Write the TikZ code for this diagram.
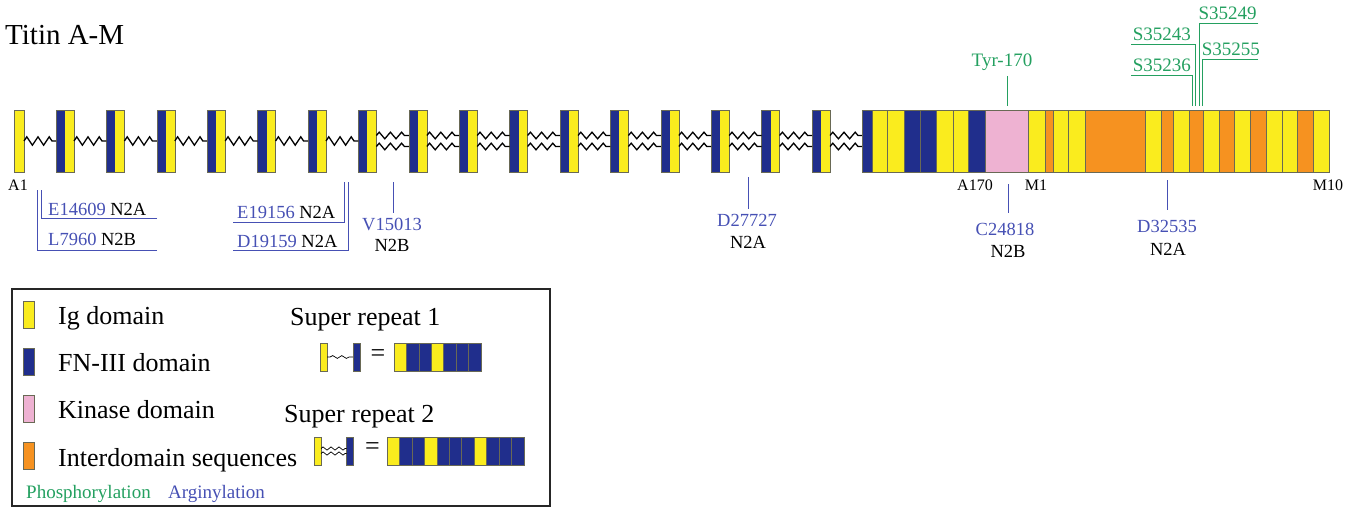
\documentclass[tikz,border=0pt]{standalone}
\usepackage{fontspec}
\setmainfont{Liberation Serif}
\usetikzlibrary{decorations.pathmorphing}

\definecolor{igY}{RGB}{250,236,30}
\definecolor{fnB}{RGB}{32,46,140}
\definecolor{kinP}{RGB}{238,178,210}
\definecolor{intO}{RGB}{246,146,32}
\definecolor{phos}{RGB}{36,160,96}
\definecolor{argn}{RGB}{70,80,180}
\definecolor{edgeC}{RGB}{105,105,85}

\tikzset{
  cellbox/.style={draw=edgeC, line width=0.5pt},
  pairbox/.style={draw=edgeC, line width=0.5pt, fill=igY, minimum width=18pt,
    minimum height=62pt, inner sep=0pt, outer sep=0pt,
    path picture={\fill[fnB] (path picture bounding box.south west)
      rectangle (path picture bounding box.north);}},
  igbox/.style={draw=edgeC, line width=0.5pt, fill=igY, minimum width=10pt,
    minimum height=62pt, inner sep=0pt, outer sep=0pt},
  zzone/.style={line width=1.3pt, line join=miter, decorate,
    decoration={zigzag, segment length=11.2pt, amplitude=4.2pt}},
  zztwo/.style={line width=1.3pt, line join=miter, decorate,
    decoration={zigzag, segment length=11.2pt, amplitude=3.3pt}},
  tick/.style={anchor=base, inner sep=0pt, font=\fontsize{16}{18}\selectfont},
  plab/.style={anchor=base west, inner sep=0pt, text=phos, font=\fontsize{19}{20}\selectfont},
  alab/.style={inner sep=0pt, font=\fontsize{18.5}{20}\selectfont},
  pline/.style={draw=phos, line width=0.8pt},
  aline/.style={draw=argn, line width=0.8pt},
  legtext/.style={anchor=base west, inner sep=0pt, font=\fontsize{26}{28}\selectfont},
  swatch/.style={draw=edgeC, line width=0.5pt, minimum width=11pt,
    minimum height=27pt, inner sep=0pt},
  iconbox/.style={draw=edgeC, line width=0.5pt, minimum width=7pt,
    minimum height=28pt, inner sep=0pt, outer sep=0pt},
}

\begin{document}
\begin{tikzpicture}[x=1pt,y=-1pt]
\useasboundingbox (0,0) rectangle (1360,508);

% ---------- title ----------
\node[legtext, font=\fontsize{29}{30}\selectfont] (title) at (5,45) {Titin A-M};

% ---------- A-band Ig / FN-III pairs ----------
\node[igbox] (p0) at (19,141) {};
\foreach \k in {1,...,16}
  \node[pairbox] (p\k) at ({65+(\k-1)*50.4},141) {};

% single linkers
\foreach \a/\b in {0/1,1/2,2/3,3/4,4/5,5/6,6/7}
  \draw[zzone] (p\a.east) -- (p\b.west);

% double linkers
\foreach \a/\b in {7/8,8/9,9/10,10/11,11/12,12/13,13/14,14/15,15/16} {
  \draw[zztwo] ([yshift=5.5pt]p\a.east) -- ([yshift=5.5pt]p\b.west);
  \draw[zztwo] ([yshift=-5.5pt]p\a.east) -- ([yshift=-5.5pt]p\b.west);
}

% ---------- A/M-band region ----------
\coordinate (rstart) at (862.7,141);
\draw[zztwo] ([yshift=5.5pt]p16.east) -- ([yshift=5.5pt]rstart);
\draw[zztwo] ([yshift=-5.5pt]p16.east) -- ([yshift=-5.5pt]rstart);

\foreach \a/\b/\c in {862.7/872/fnB, 872/887/igY, 887/904/igY, 904/920/fnB,
  920/936/fnB, 936/953/igY, 953/968/igY, 968/985/fnB, 985/1028.5/kinP,
  1028.5/1045/igY, 1045/1053/intO, 1053/1068/igY, 1068/1085/igY,
  1085/1145/intO, 1145/1161/igY, 1161/1173/intO, 1173/1189/igY,
  1189/1203/intO, 1203/1219/igY, 1219/1234/intO, 1234/1250/igY,
  1250/1266/intO, 1266/1282/igY, 1282/1297/igY, 1297/1313/intO,
  1313/1329/igY}
  \draw[cellbox, fill=\c] (\a,110) rectangle (\b,172);

% ---------- domain markers ----------
\node[tick] (mA1) at (18,190) {A1};
\node[tick] (mA170) at (975,190) {A170};
\node[tick] (mM1) at (1036,190) {M1};
\node[tick] (mM10) at (1328,190) {M10};

% ---------- phosphorylation sites ----------
\node[plab, anchor=base] (tyr) at (1002,67) {Tyr-170};
\draw[pline] (1007,76) -- (1007,106);

\node[plab] (s249) at (1198.3,19.5) {S35249};
\node[plab] (s243) at (1132.7,40.5) {S35243};
\node[plab] (s255) at (1201.7,56) {S35255};
\node[plab] (s236) at (1132.7,71.5) {S35236};
\draw[pline] (1258.3,23) -- (1199.3,23) -- (1199.3,106);
\draw[pline] (1131,44) -- (1195.8,44) -- (1195.8,106);
\draw[pline] (1258.3,59.5) -- (1202.5,59.5) -- (1202.5,106);
\draw[pline] (1131,75) -- (1192.8,75) -- (1192.8,106);

% ---------- arginylation sites ----------
\draw[aline] (157,218) -- (41,218) -- (41,190);
\draw[aline] (157,250) -- (37.5,250) -- (37.5,190);
\node[alab, anchor=base west] (e14609) at (48,215) {\textcolor{argn}{E14609} N2A};
\node[alab, anchor=base west] (l7960) at (48,245) {\textcolor{argn}{L7960} N2B};

\draw[aline] (233,222) -- (344,222) -- (344,182);
\draw[aline] (233,250) -- (348,250) -- (348,182);
\node[alab, anchor=base west] (e19156) at (237,218) {\textcolor{argn}{E19156} N2A};
\node[alab, anchor=base west] (d19159) at (237,247) {\textcolor{argn}{D19159} N2A};

\draw[aline] (393,182) -- (393,213);
\node[alab, anchor=base, text=argn] (v15013) at (392,230) {V15013};
\node[alab, anchor=base] (v15013b) at (392,251) {N2B};

\draw[aline] (748,177) -- (748,209);
\node[alab, anchor=base, text=argn] (d27727) at (747,226.5) {D27727};
\node[alab, anchor=base] (d27727b) at (748,248) {N2A};

\draw[aline] (1008,184) -- (1008,213);
\node[alab, anchor=base, text=argn] (c24818) at (1005,235) {C24818};
\node[alab, anchor=base] (c24818b) at (1008,257) {N2B};

\draw[aline] (1167,180) -- (1167,210);
\node[alab, anchor=base, text=argn] (d32535) at (1167,232) {D32535};
\node[alab, anchor=base] (d32535b) at (1168,255) {N2A};

% ---------- legend ----------
\draw[line width=1.6pt, draw=black!85] (12,289) rectangle (550,506);

\node[swatch, fill=igY] (kIg) at (28.5,315) {};
\node[swatch, fill=fnB] (kFn) at (28.5,361.5) {};
\node[swatch, fill=kinP] (kKin) at (28.5,409) {};
\node[swatch, fill=intO] (kInt) at (28.5,456) {};
\node[legtext] (tIg) at (58,324) {Ig domain};
\node[legtext] (tFn) at (58,371) {FN-III domain};
\node[legtext] (tKin) at (58,418) {Kinase domain};
\node[legtext] (tInt) at (58,466) {Interdomain sequences};
\node[plab] (tPhos) at (26,498) {Phosphorylation};
\node[plab, text=argn] (tArg) at (168,498) {Arginylation};

% super repeat 1
\node[legtext] (sr1) at (290,325) {Super repeat 1};
\node[iconbox, fill=igY] (sy1) at (323.5,357) {};
\node[iconbox, fill=fnB] (sb1) at (356.5,357) {};
\draw[line width=0.7pt, decorate, decoration={snake, amplitude=1.4pt,
  segment length=9pt, pre length=3pt, post length=3pt}] (sy1.east) -- (sb1.west);
\node[inner sep=0pt, font=\fontsize{26}{28}\selectfont] (eq1) at (378,356) {=};
\foreach \c [count=\i from 0] in {igY,fnB,fnB,igY,fnB,fnB,fnB}
  \draw[cellbox, fill=\c] ({394+\i*12.43},343) rectangle ({394+(\i+1)*12.43},371);

% super repeat 2
\node[legtext] (sr2) at (284,422) {Super repeat 2};
\node[iconbox, fill=igY] (sy2) at (317.5,451) {};
\node[iconbox, fill=fnB] (sb2) at (350,451) {};
\draw[line width=0.7pt, decorate, decoration={zigzag, amplitude=1.6pt,
  segment length=8pt}] ([yshift=2.5pt]sy2.east) -- ([yshift=2.5pt]sb2.west);
\draw[line width=0.7pt, decorate, decoration={zigzag, amplitude=1.6pt,
  segment length=8pt}] ([yshift=-2.5pt]sy2.east) -- ([yshift=-2.5pt]sb2.west);
\node[inner sep=0pt, font=\fontsize{26}{28}\selectfont] (eq2) at (372.5,449) {=};
\foreach \c [count=\i from 0] in {igY,fnB,fnB,igY,fnB,fnB,fnB,igY,fnB,fnB,fnB}
  \draw[cellbox, fill=\c] ({387+\i*12.45},437) rectangle ({387+(\i+1)*12.45},465);

\end{tikzpicture}
\end{document}
